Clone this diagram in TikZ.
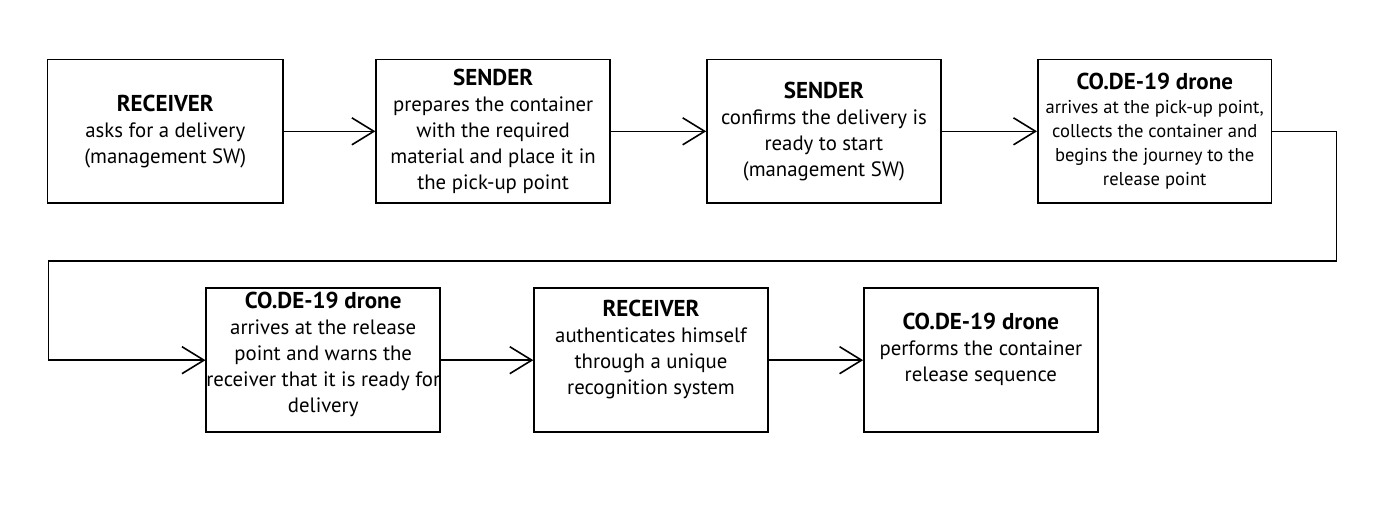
\documentclass[tikz,border=0pt]{standalone}
\usepackage{fontspec}
\setmainfont{PT Sans}
\usetikzlibrary{arrows.meta}
\newcommand\steptitle[1]{{\fontsize{11.5}{13}\selectfont\bfseries #1}}
\begin{document}
\begin{tikzpicture}[x=0.5pt,y=-0.5pt,
                stepbox/.style={draw,thick,align=center,inner sep=0pt,minimum width=117pt,minimum height=72pt,font=\fontsize{10.4}{13}\selectfont},
                >={Straight Barb[length=11pt,width=13.5pt]}]
                \draw[white] (0,0) rectangle (1390,517);
                % first row
                \node[stepbox,minimum width=118pt] (recv) at (165,131) {\steptitle{RECEIVER}\\asks for a delivery\\(management SW)};
                \node[stepbox] (prep) at (493,131) {\steptitle{SENDER}\\prepares the container\\with the required\\material and place it in\\the pick-up point};
                \node[stepbox] (conf) at (824,131) {\steptitle{SENDER}\\confirms the delivery is\\ready to start\\(management SW)};
                \node[stepbox,font=\fontsize{9.3}{12}\selectfont] (pick) at (1155,131) {\steptitle{CO.DE-19 drone}\\arrives at the pick-up point,\\collects the container and\\begins the journey to the\\release point};
                % second row
                \node[stepbox] (warn) at (323,360) {\steptitle{CO.DE-19 drone}\\arrives at the release\\point and warns the\\receiver that it is ready for\\delivery\rule[-7.5pt]{0pt}{7.5pt}};
                \node[stepbox] (auth) at (651,360) {\steptitle{RECEIVER}\\authenticates himself\\through a unique\\recognition system\rule[-13pt]{0pt}{13pt}};
                \node[stepbox] (rel) at (981,360) {\steptitle{CO.DE-19 drone}\\performs the container\\release sequence\rule[-12.5pt]{0pt}{12.5pt}};
                \coordinate (turnR) at (1337,261);
                \coordinate (turnL) at (48,261);
                \draw[thick,->] (recv) -- (prep);
                \draw[thick,->] (prep) -- (conf);
                \draw[thick,->] (conf) -- (pick);
                \draw[thick,->] (pick.east) -| (turnR) -- (turnL) |- (warn.west);
                \draw[thick,->] (warn) -- (auth);
                \draw[thick,->] (auth) -- (rel);
            \end{tikzpicture}
\end{document}
